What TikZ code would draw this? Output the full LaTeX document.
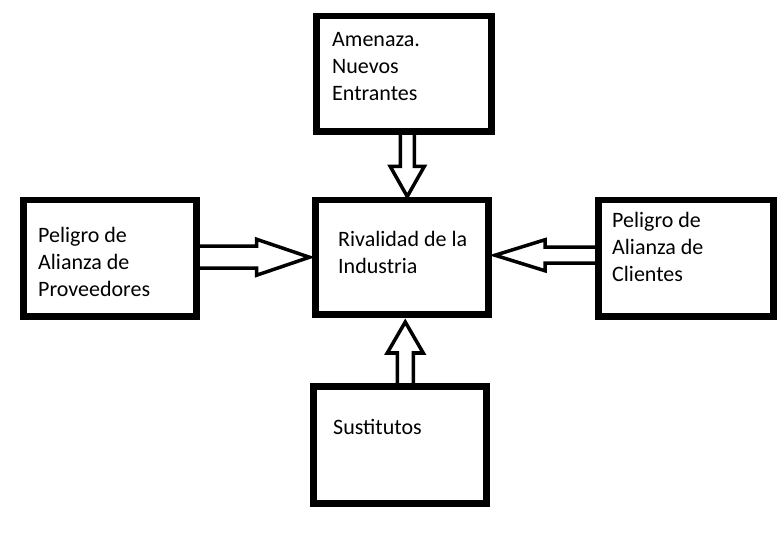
\documentclass[tikz,border=0pt]{standalone}
\usepackage{fontspec}
\setmainfont{Carlito}
\begin{document}
\begin{tikzpicture}[x=1pt,y=-1pt,
  box/.style={draw,line width=4.5pt,fill=white,inner sep=0pt,anchor=north west},
  blk/.style={draw,line width=3.5pt,fill=white,line join=miter,miter limit=20},
  lbl/.style={anchor=base west,inner sep=0pt,align=left,font=\fontsize{22}{27}\selectfont}]
\useasboundingbox[fill=white] (0,0) rectangle (784,534);
% boxes
\node[box,minimum width=173pt,minimum height=113pt] (top) at (315,15) {};
\node[box,minimum width=171pt,minimum height=112pt] (center) at (314,199) {};
\node[box,minimum width=171pt,minimum height=114pt] (left) at (22,199) {};
\node[box,minimum width=173pt,minimum height=114pt] (right) at (597,199) {};
\node[box,minimum width=171pt,minimum height=115pt] (bottom) at (312,385) {};
% block arrows
\draw[blk] (top.south) ++(-3.5,0) -- ++(0,34) -- ++(-10,0) -- ++(17,30) -- ++(17,-30) -- ++(-10,0) -- ++(0,-34) -- cycle;
\draw[blk] (left.east) ++(0,-12) -- ++(59,0) -- ++(0,-7) -- ++(53,18) -- ++(-53,18) -- ++(0,-7) -- ++(-59,0) -- cycle;
\draw[blk] (right.west) ++(0,-11) -- ++(-52,0) -- ++(0,-7.5) -- ++(-50,15.5) -- ++(50,15.5) -- ++(0,-7.5) -- ++(52,0) -- cycle;
\draw[blk] (bottom.north) ++(-2.5,0) -- ++(0,-32) -- ++(-10,0) -- ++(18,-31) -- ++(18,31) -- ++(-10,0) -- ++(0,32) -- cycle;
% redraw box borders over arrow ends
\foreach \n in {top,center,left,right,bottom}{\draw[line width=4.5pt] (\n.north west) rectangle (\n.south east);}
% labels (anchored at baseline of last line)
\node[lbl] (ttop) at (332,101) {Amenaza.\\Nuevos\\Entrantes};
\node[lbl] (tcenter) at (338,274) {Rivalidad de la\\Industria};
\node[lbl] (tleft) at (38,297) {Peligro de\\Alianza de\\Proveedores};
\node[lbl] (tright) at (612,282) {Peligro de\\Alianza de\\Clientes};
\node[lbl] (tbottom) at (333,434) {Sustitutos};
\end{tikzpicture}
\end{document}
